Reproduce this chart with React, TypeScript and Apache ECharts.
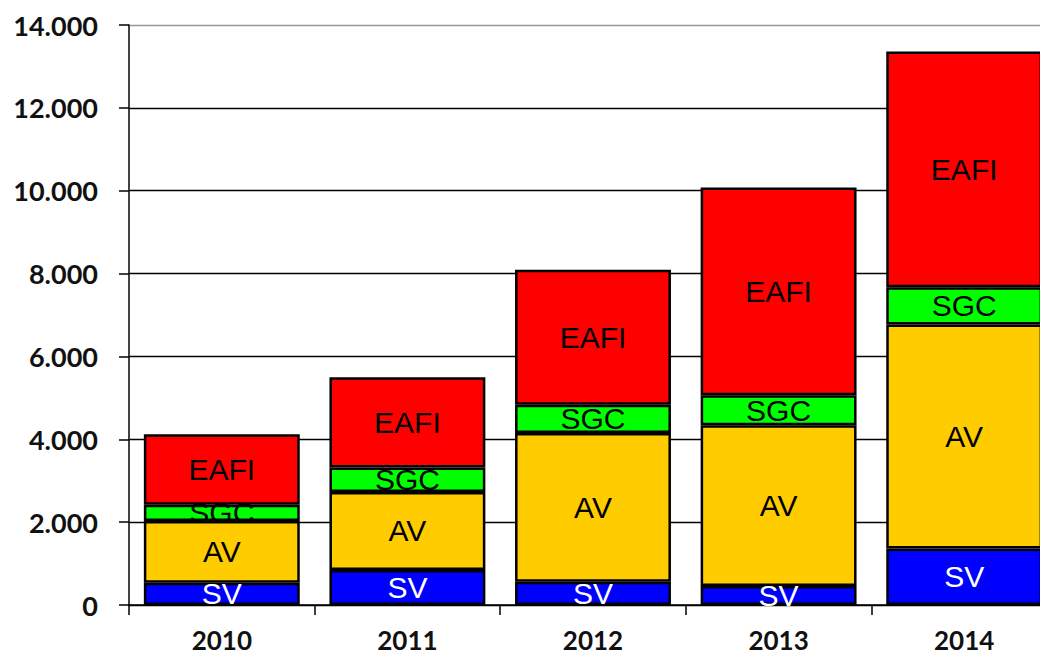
import React, { useEffect, useRef } from "react";
import * as echarts from "echarts";

const categories = ["2010", "2011", "2012", "2013", "2014"];
const seriesNames = ["SV", "AV", "SGC", "EAFI"];
const svValues = [540, 845, 560, 460, 1365];
const avValues = [1490, 1885, 3590, 3880, 5405];
const sgcValues = [390, 590, 685, 720, 900];
const eafiValues = [1700, 2180, 3260, 5020, 5690];
const seriesColors = ["#0000FF", "#FFCC00", "#00FF00", "#FF0000"];
const labelColors = ["#FFFFFF", "#000000", "#000000", "#000000"];
const yTicks = { min: 0, max: 14000, interval: 2000 };

function formatThousands(v: number): string {
  return String(Math.round(v)).replace(/\B(?=(\d{3})+(?!\d))/g, ".");
}

export default function App() {
  const ref = useRef<HTMLDivElement>(null);
  useEffect(() => {
    if (!ref.current) return;
    const chart = echarts.init(ref.current, null, { renderer: "svg" });
    const allValues = [svValues, avValues, sgcValues, eafiValues];
    chart.setOption({
      animation: false,
      backgroundColor: "#FFFFFF",
      grid: { left: 129, top: 25, bottom: 50, right: 0, containLabel: false },
      xAxis: {
        type: "category",
        data: categories,
        boundaryGap: true,
        axisLine: { show: true, lineStyle: { color: "#000", width: 1.5 } },
        axisTick: { show: true, length: 10, lineStyle: { color: "#000", width: 1.5 } },
        axisLabel: {
          margin: 22,
          color: "#111",
          fontFamily: "Lato",
          fontWeight: "bold",
          fontSize: 26,
          lineHeight: 26,
        },
        splitLine: { show: false },
      },
      yAxis: {
        type: "value",
        min: yTicks.min,
        max: yTicks.max,
        interval: yTicks.interval,
        axisLine: { show: true, lineStyle: { color: "#222", width: 1.7 } },
        axisTick: { show: true, length: 10, inside: false, lineStyle: { color: "#000", width: 1.5 } },
        axisLabel: {
          margin: 31,
          color: "#111",
          fontFamily: "Lato",
          fontWeight: "bold",
          fontSize: 27,
          formatter: (v: number) => formatThousands(v),
        },
        splitLine: {
          show: true,
          lineStyle: {
            color: ["#000", "#000", "#000", "#000", "#000", "#000", "#000", "#999"],
            width: 1.3,
          },
        },
      },
      series: seriesNames.map((name, i) => ({
        name,
        type: "bar",
        stack: "total",
        data: allValues[i],
        barCategoryGap: "16%",
        itemStyle: { color: seriesColors[i], borderColor: "#000", borderWidth: 2.5 },
        label: {
          show: true,
          position: "inside",
          formatter: name,
          color: labelColors[i],
          fontFamily: "Liberation Sans",
          fontSize: 30,
        },
      })),
    });
    return () => chart.dispose();
  }, []);
  return (
    <div style={{ position: "absolute", left: 0, top: 0, width: 1040, height: 655, overflow: "hidden" }}>
      <div ref={ref} style={{ width: 1057, height: 655 }} />
    </div>
  );
}
